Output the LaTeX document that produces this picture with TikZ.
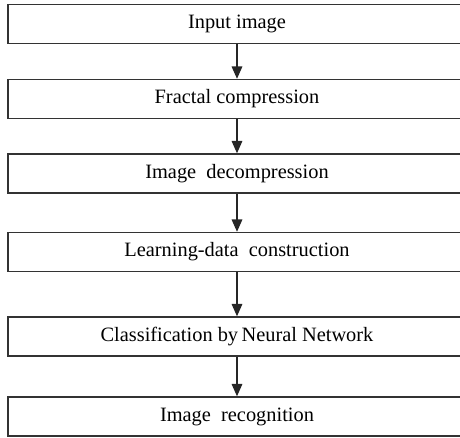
\documentclass[tikz,border=0pt]{standalone}
\usepackage{fontspec}
\setmainfont{Liberation Serif}
\usetikzlibrary{arrows.meta,positioning}

\begin{document}
\begin{tikzpicture}[x=0.02cm,y=-0.02cm,
        stage/.style={rectangle,draw=black!80,line width=0.8pt,minimum width=9.16cm,minimum height=0.78cm,inner sep=0pt,font=\fontsize{11.6}{14}\selectfont},
        flow/.style={draw=black!85,line width=0.8pt,-{Triangle[width=6pt,length=7pt]}}]
        %\draw [help lines] (0,0) grid (460,438);
        \useasboundingbox (0,0) rectangle (460,438);
        \clip (0,0) rectangle (460,438);

        \node [stage] (input) at (237,24) {Input image};
        \node [stage] (fractal) at (237,99) {Fractal compression};
        \node [stage] (decomp) at (237,173.5) {Image\ \ decompression};
        \node [stage] (learn) at (237,252) {Learning-data\ \ construction};
        \node [stage] (classify) at (237,336.5) {Classification by\,Neural Network};
        \node [stage] (recog) at (237,416.5) {Image\ \ recognition};

        \draw[flow] (input) -- (fractal);
        \draw[flow] (fractal) -- (decomp);
        \draw[flow] (decomp) -- (learn);
        \draw[flow] (learn) -- (classify);
        \draw[flow] (classify) -- (recog);

    \end{tikzpicture}
\end{document}
